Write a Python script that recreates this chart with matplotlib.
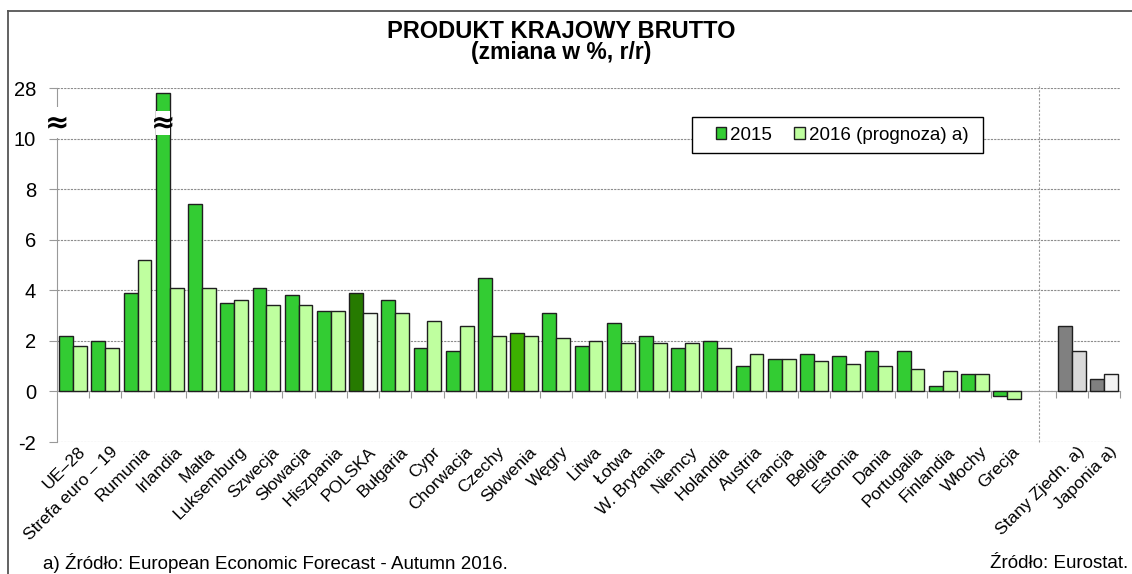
import matplotlib
matplotlib.use("Agg")
import matplotlib.pyplot as plt
import numpy as np
from matplotlib.patches import Patch, Rectangle
from matplotlib.lines import Line2D

plt.rcParams["font.family"] = ["Liberation Sans", "DejaVu Sans"]

# GDP growth, % y/y
eu_countries = ["UE–28", "Strefa euro – 19", "Rumunia", "Irlandia", "Malta",
                "Luksemburg", "Szwecja", "Słowacja", "Hiszpania", "POLSKA",
                "Bułgaria", "Cypr", "Chorwacja", "Czechy", "Słowenia", "Węgry",
                "Litwa", "Łotwa", "W. Brytania", "Niemcy", "Holandia", "Austria",
                "Francja", "Belgia", "Estonia", "Dania", "Portugalia",
                "Finlandia", "Włochy", "Grecja"]
gdp_2015 = [2.2, 2.0, 3.9, 26.3, 7.4, 3.5, 4.1, 3.8, 3.2, 3.9,
            3.6, 1.7, 1.6, 4.5, 2.3, 3.1, 1.8, 2.7, 2.2, 1.7,
            2.0, 1.0, 1.3, 1.5, 1.4, 1.6, 1.6, 0.2, 0.7, -0.2]
gdp_2016 = [1.8, 1.7, 5.2, 4.1, 4.1, 3.6, 3.4, 3.4, 3.2, 3.1,
            3.1, 2.8, 2.6, 2.2, 2.2, 2.1, 2.0, 1.9, 1.9, 1.9,
            1.7, 1.5, 1.3, 1.2, 1.1, 1.0, 0.9, 0.8, 0.7, -0.3]

other_countries = ["Stany Zjedn. a)", "Japonia a)"]
other_2015 = [2.6, 0.5]
other_2016 = [1.6, 0.7]

y_ticks = [-2, 0, 2, 4, 6, 8, 10, 28]

# compressed segment above 10 so that Ireland fits
BREAK_AT = 10.0
BREAK_K = 2.0 / 18.0


def fwd(v):
    v = np.asarray(v, dtype=float)
    return np.where(v <= BREAK_AT, v, BREAK_AT + (v - BREAK_AT) * BREAK_K)


def inv(d):
    d = np.asarray(d, dtype=float)
    return np.where(d <= BREAK_AT, d, BREAK_AT + (d - BREAK_AT) / BREAK_K)


C15 = "#33CC33"
C16 = "#BFFF9F"
special = {
    "POLSKA": ("#267A00", "#F2FDEE"),
    "Słowenia": ("#3CB000", C16),
}
other_colors = [("#808080", "#D9D9D9"), ("#808080", "#F2F2F2")]
EDGE = "#1f1f1f"

names = eu_countries + other_countries
v15 = gdp_2015 + other_2015
v16 = gdp_2016 + other_2016
gap = len(eu_countries)
pos = np.array(list(range(gap)) + [gap + 1 + i for i in range(len(other_countries))])
cols15 = [special.get(n, (C15, C16))[0] for n in eu_countries] + [c[0] for c in other_colors]
cols16 = [special.get(n, (C15, C16))[1] for n in eu_countries] + [c[1] for c in other_colors]

W, H = 1132, 574
fig = plt.figure(figsize=(W / 100, H / 100), dpi=100)
ax = fig.add_axes([57 / W, 1 - 442 / H, (1120 - 57) / W, (442 - 88) / H])
ax.set_yscale("function", functions=(fwd, inv))

w = 0.43
ax.bar(pos - w / 2, v15, w, color=cols15, edgecolor=EDGE, linewidth=1.0, zorder=3)
ax.bar(pos + w / 2, v16, w, color=cols16, edgecolor=EDGE, linewidth=1.0, zorder=3)

ax.set_xlim(-0.5, pos[-1] + 0.5)
ax.set_ylim(-2, 28)
ax.set_yticks(y_ticks)
ax.set_yticklabels([str(t) for t in y_ticks], fontsize=14.5)
ax.yaxis.grid(True, linestyle=(0, (2, 1)), color="#8c8c8c", linewidth=0.8)
ax.set_axisbelow(True)

for s in ["top", "right"]:
    ax.spines[s].set_visible(False)
ax.spines["left"].set_color("#999999")
ax.spines["bottom"].set_color("#999999")
ax.spines["bottom"].set_position(("data", 0))
ax.tick_params(axis="y", length=6, color="#999999", pad=9)

bounds = [b for b in np.arange(0.5, pos[-1] + 1, 1.0) if b != gap - 0.5]
ax.set_xticks(bounds)
ax.set_xticklabels([])
ax.tick_params(axis="x", length=5, color="#999999", direction="out")

# separator between EU and the other economies
ax.axvline(gap, ymin=0, ymax=1.01, color="#9a9a9a", linestyle=(0, (2, 1.5)),
           linewidth=0.8, clip_on=False, zorder=1)

# category labels
for p, n in zip(pos, names):
    ax.text(p + 0.15, -0.006, n, transform=ax.get_xaxis_transform(),
            rotation=45, rotation_mode="anchor", ha="right", va="top",
            fontsize=12.5)

# break marks on the axis and on the Ireland bar
ix = eu_countries.index("Irlandia")
ax.bar(pos[ix] - w / 2, inv(11.1) - inv(10.13), w, bottom=inv(10.13),
       color="white", edgecolor="none", zorder=4)
ax.text(pos[ix] - w / 2, inv(10.62), "≈", ha="center", va="center",
        fontsize=21, fontweight="bold", family="DejaVu Sans", zorder=5)
ax.text(-0.5, inv(10.62), "≈", ha="center", va="center", fontsize=21,
        fontweight="bold", family="DejaVu Sans", zorder=5, clip_on=False,
        bbox=dict(facecolor="white", edgecolor="none", pad=1))

# legend with a fixed box
fig.add_artist(Rectangle((692 / W, 1 - 153 / H), 291 / W, 36 / H,
                         transform=fig.transFigure, facecolor="white",
                         edgecolor="black", linewidth=1.0, zorder=5))
handles = [Patch(facecolor=C15, edgecolor=EDGE, linewidth=1.0),
           Patch(facecolor=C16, edgecolor=EDGE, linewidth=1.0)]
fig.legend(handles, ["2015", "2016 (prognoza) a)"], ncol=2,
           loc="center left", bbox_to_anchor=(716 / W, 1 - 135 / H),
           borderaxespad=0, borderpad=0, fontsize=13.5, frameon=False,
           handlelength=0.55, handleheight=0.55, handletextpad=0.2,
           columnspacing=1.2).set_zorder(6)

fig.text(0.496, 1 - 32 / H, "PRODUKT KRAJOWY BRUTTO", ha="center", va="center",
         fontsize=17, fontweight="bold")
fig.text(0.496, 1 - 53 / H, "(zmiana w %, r/r)", ha="center", va="center",
         fontsize=16.5, fontweight="bold")
fig.text(43 / W, 1 - 563 / H, "a) Źródło: European Economic Forecast - Autumn 2016.",
         ha="left", va="center", fontsize=13.5)
fig.text(1128 / W, 1 - 563 / H, "Źródło: Eurostat.", ha="right", va="center",
         fontsize=13.5)

# frame around the figure (top and left edges)
fig.add_artist(Line2D([8 / W, 1.0], [1 - 11 / H, 1 - 11 / H],
                      transform=fig.transFigure, color="#555555", linewidth=1.3))
fig.add_artist(Line2D([8 / W, 8 / W], [0.0, 1 - 11 / H],
                      transform=fig.transFigure, color="#555555", linewidth=1.3))

fig.savefig("out.png", dpi=100)
